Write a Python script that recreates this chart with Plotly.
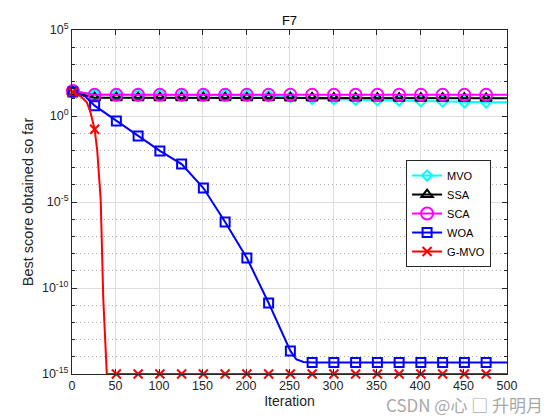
import plotly.graph_objects as go

# ---- data ----
mvo_iter = [1, 26, 51, 76, 101, 126, 151, 176, 201, 226, 251, 276, 301, 326, 351, 376, 401, 426, 451, 476, 500]
mvo_val = [28, 17.5, 17, 17, 17, 17, 17, 17, 16.5, 15.5, 13, 10, 9.5, 8.9, 8.3, 7.9, 7.2, 7.0, 6.3, 6.2, 6.2]

ssa_iter = [1, 26, 51, 76, 101, 126, 151, 176, 201, 226, 251, 276, 301, 326, 351, 376, 401, 426, 451, 476, 500]
ssa_val = [25, 11.5, 11.5, 11.5, 11.5, 11.5, 11.5, 11.5, 11.4, 11.4, 11.3, 11.2, 11.1, 11.0, 11.0, 10.9, 10.9, 10.8, 10.8, 10.7, 10.7]

sca_iter = [1, 26, 51, 76, 101, 126, 151, 176, 201, 226, 251, 276, 301, 326, 351, 376, 401, 426, 451, 476, 500]
sca_val = [28, 17, 17, 17, 17, 17, 17, 17, 17, 17, 17, 17, 17, 17, 17, 17, 17, 17, 17, 17, 17]

woa_iter = [1, 15, 26, 51, 76, 101, 126, 151, 176, 201, 226, 251, 258, 266, 276, 301, 326, 351, 376, 401, 426, 451, 476, 500]
woa_val = [25, 14, 4.0, 0.51, 0.069, 9.3e-3, 1.6e-3, 6.5e-5, 6.9e-7, 5.5e-9, 1.35e-11, 2.2e-14, 7.0e-15,
           5.0e-15, 4.7e-15, 4.7e-15, 4.7e-15, 4.7e-15, 4.6e-15, 4.6e-15, 4.6e-15, 4.6e-15, 4.6e-15, 4.6e-15]

gmvo_iter = [1, 10, 14, 17, 21, 24, 26, 29, 33, 36, 40, 51, 76, 101, 126, 151, 176, 201, 226, 251, 276, 301,
             326, 351, 376, 401, 426, 451, 476, 500]
gmvo_val = [25, 14, 8.9, 6.3, 1.8, 0.4, 0.17, 1e-2, 1.26e-5, 2e-11, 1e-15, 1e-15, 1e-15, 1e-15, 1e-15, 1e-15,
            1e-15, 1e-15, 1e-15, 1e-15, 1e-15, 1e-15, 1e-15, 1e-15, 1e-15, 1e-15, 1e-15, 1e-15, 1e-15, 1e-15]

marker_iters = [1, 26, 51, 76, 101, 126, 151, 176, 201, 226, 251, 276, 301, 326, 351, 376, 401, 426, 451, 476]

names = ["MVO", "SSA", "SCA", "WOA", "G-MVO"]
y_tickvals = [1e-15, 1e-10, 1e-5, 1, 1e5]
y_ticktext = ["10<sup>-15</sup>", "10<sup>-10</sup>", "10<sup>-5</sup>", "10<sup>0</sup>", "10<sup>5</sup>"]
x_tickvals = [0, 50, 100, 150, 200, 250, 300, 350, 400, 450, 500]

series = [
    (mvo_iter, mvo_val, "#00FFFF", "diamond-open", 8),
    (ssa_iter, ssa_val, "#000000", "triangle-up-open", 10),
    (sca_iter, sca_val, "#FF00FF", "circle-open", 12),
    (woa_iter, woa_val, "#0000FF", "square-open", 9),
    (gmvo_iter, gmvo_val, "#FF0000", "x-thin", 9),
]

fig = go.Figure()

# legend entries
for name, (xs, ys, col, sym, sz) in zip(names, series):
    fig.add_trace(go.Scatter(
        x=[None], y=[None], name=name, mode="lines+markers",
        line=dict(color=col, width=2),
        marker=dict(symbol=sym, size=sz, color=col, line=dict(color=col, width=2)),
    ))

for name, (xs, ys, col, sym, sz) in zip(names, series):
    fig.add_trace(go.Scatter(
        x=xs, y=ys, mode="lines", showlegend=False, hoverinfo="skip",
        line=dict(color=col, width=2),
    ))
    mx = [x for x in xs if x in marker_iters]
    my = [y for x, y in zip(xs, ys) if x in marker_iters]
    fig.add_trace(go.Scatter(
        x=mx, y=my, mode="markers", showlegend=False, cliponaxis=False,
        marker=dict(symbol=sym, size=sz, color=col, line=dict(color=col, width=2)),
    ))

axis_col = "#262626"
fig.update_layout(
    width=560, height=420,
    margin=dict(l=72, r=53, t=30, b=46, autoexpand=False),
    paper_bgcolor="white", plot_bgcolor="white",
    font=dict(family="Liberation Sans, Arial, sans-serif", size=12, color=axis_col),
    title=dict(text="F7", x=(72 + 507) / 2 / 560, xanchor="center", y=1 - 20 / 420, yanchor="middle",
               font=dict(size=13, color="#000000"), automargin=False),
    legend=dict(x=0.768, y=0.622, xanchor="left", yanchor="top", bgcolor="white",
                bordercolor=axis_col, borderwidth=1, font=dict(size=11, color="#000000"),
                tracegroupgap=0, itemwidth=30),
    showlegend=True,
)
fig.update_xaxes(
    range=[0, 500], tickmode="array", tickvals=x_tickvals, automargin=False,
    ticks="inside", ticklen=5, tickcolor=axis_col,
    showline=True, linecolor=axis_col, linewidth=1, mirror="allticks",
    showgrid=True, gridcolor="#dedede", gridwidth=1, zeroline=False,
    title=dict(text="Iteration", font=dict(size=14), standoff=4),
    tickfont=dict(size=12.5),
)
fig.update_yaxes(
    type="log", range=[-15, 5], tickmode="array", tickvals=y_tickvals, ticktext=y_ticktext,
    automargin=False,
    ticks="inside", ticklen=5, tickcolor=axis_col,
    showline=True, linecolor=axis_col, linewidth=1, mirror="allticks",
    showgrid=True, gridcolor="#dedede", gridwidth=1, zeroline=False,
    minor=dict(dtick=1, tick0=0, ticks="inside", ticklen=3, tickcolor=axis_col,
               showgrid=True, griddash="1px,3px", gridcolor="#b0b0b0", gridwidth=1),
    title=dict(text="Best score obtained so far", font=dict(size=14.5), standoff=4),
    tickfont=dict(size=12.5),
)

fig.add_annotation(
    text="CSDN @心 □ 升明月", xref="paper", yref="paper",
    x=(545 - 72) / 435, y=(374 - 404) / 344, xanchor="right", yanchor="middle",
    showarrow=False, font=dict(family="Noto Sans CJK SC", size=17, color="#a8a8a8"),
)

fig.write_html("out.html", config={"displayModeBar": False},
               post_script="document.body.style.margin='0';document.body.style.overflow='hidden';")
